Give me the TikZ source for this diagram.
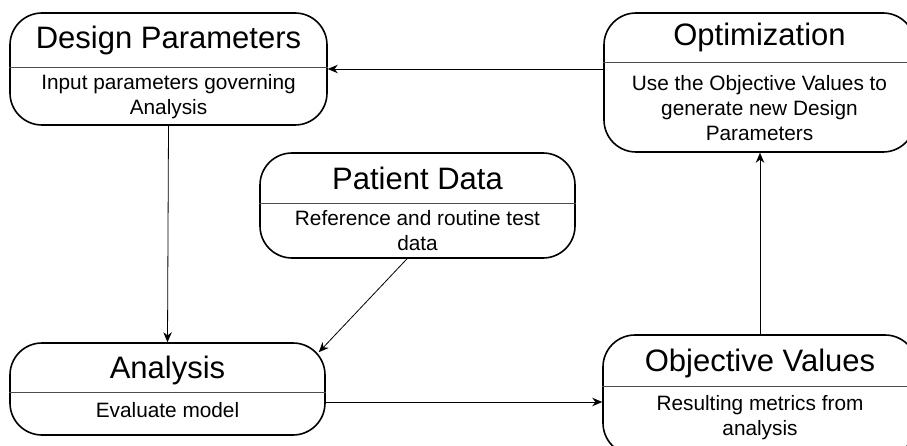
\documentclass[tikz,border=0pt]{standalone}
\usepackage{fontspec}
\setmainfont{Liberation Sans}
\usepackage{tikz}
\usetikzlibrary{arrows.meta,calc}
\tikzset{
block/.style={
draw,
line width=1.6pt,
rounded corners=32pt,
fill=white
},
heading/.style={
font=\fontsize{31}{36}\selectfont
},
note/.style={
align=center,
font=\fontsize{20.8}{25}\selectfont
},
divider/.style={
draw=black!70,
line width=0.7pt
},
arrow/.style={
-{Stealth[length=10pt,width=8.5pt]},
line width=0.8pt
}
}

\begin{document}
\begin{tikzpicture}[x=1pt,y=1pt]
\useasboundingbox (0,0) rectangle (907,445);
\clip (0,0) rectangle (907,445);

\node[block,minimum width=317pt,minimum height=112pt](dp) at (168.5,376){};
\node[block,minimum width=315pt,minimum height=105pt](pd) at (417.5,239.5){};
\node[block,minimum width=315pt,minimum height=92pt](an) at (167.5,56){};
\node[block,minimum width=311pt,minimum height=139pt](op) at (759.5,362.5){};
\node[block,minimum width=314pt,minimum height=120pt](ov) at (760,50){};

\draw[divider](dp.west |- 0,378)--(dp.east |- 0,378);
\draw[divider](pd.west |- 0,242)--(pd.east |- 0,242);
\draw[divider](an.west |- 0,53)--(an.east |- 0,53);
\draw[divider](op.west |- 0,383)--(op.east |- 0,383);
\draw[divider](ov.west |- 0,59)--(ov.east |- 0,59);

\node[heading](dptitle) at (168.5,405){Design Parameters};
\node[note](dptext) at (168.5,348.5){Input parameters governing\\Analysis};
\node[heading](pdtitle) at (417.5,267){Patient Data};
\node[note](pdtext) at (417.5,214.5){Reference and routine test\\data};
\node[heading](antitle) at (167.5,75){Analysis};
\node[note](antext) at (167.5,35){Evaluate model};
\node[heading](optitle) at (759.5,408){Optimization};
\node[note](optext) at (759.5,337){Use the Objective Values to\\generate new Design\\Parameters};
\node[heading](ovtitle) at (760,82){Objective Values};
\node[note](ovtext) at (760,27.5){Resulting metrics from\\analysis};

\draw[arrow](op.west |- dp.east)--(dp.east);
\draw[arrow](dp.south)--(an.north);
\draw[arrow]([xshift=-10.5pt]pd.south)--([xshift=-7pt,yshift=-10pt]an.north east);
\coordinate(aout) at ([yshift=-13pt]an.east);
\draw[arrow](aout)--(aout -| ov.west);
\draw[arrow](ov.north)--(ov.north |- op.south);
\end{tikzpicture}
\end{document}
